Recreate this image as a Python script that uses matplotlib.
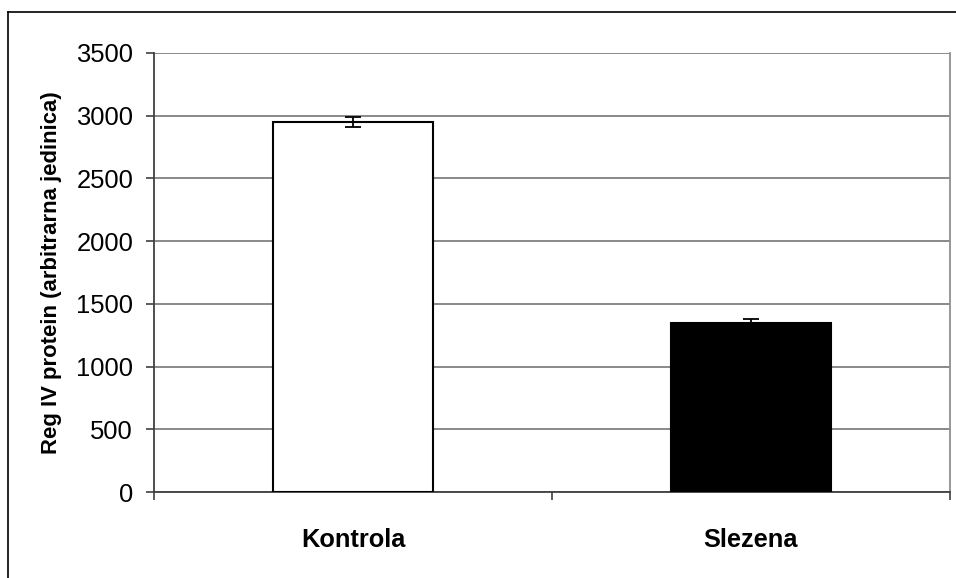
import matplotlib
matplotlib.use("Agg")
import matplotlib.pyplot as plt
from matplotlib.lines import Line2D

categories = ["Kontrola", "Slezena"]
values = [2950, 1345]
errors = [37, 35]
bar_colors = ["white", "black"]
yticks = [0, 500, 1000, 1500, 2000, 2500, 3000, 3500]

plt.rcParams['font.family'] = ['Liberation Sans', 'DejaVu Sans']

fig = plt.figure(figsize=(9.56, 5.78), dpi=100)
ax = fig.add_axes([154/956, (578-492)/578, (950-154)/956, (492-53)/578])

x = list(range(len(categories)))
ax.bar(x, values, width=0.40, color=bar_colors, edgecolor="black", linewidth=1.5, zorder=3)
ax.errorbar(x, values, yerr=errors, fmt="none", ecolor="black", elinewidth=1.3,
            capsize=5.8, capthick=1.3, zorder=4)

ax.set_xlim(-0.5, 1.5)
ax.set_ylim(0, 3500)
ax.set_yticks(yticks)
ax.set_yticklabels([str(v) for v in yticks], fontsize=18.4)
ax.set_xticks(x)
ax.set_xticklabels(categories, fontsize=18.3, fontweight="bold")
ax.tick_params(axis="x", which="major", length=0, pad=26)
ax.set_xticks([-0.5, 0.5, 1.5], minor=True)
ax.tick_params(axis="x", which="minor", length=6, width=1.2, color="#404040", direction="out")
ax.tick_params(axis="y", length=6, width=1.2, color="#404040", direction="out", pad=9)

ax.yaxis.grid(True, color="#808080", linewidth=1.3, zorder=0)
ax.set_axisbelow(True)
ax.spines["top"].set_visible(False)
ax.spines["right"].set_color("#909090")
ax.spines["right"].set_linewidth(1.3)
ax.spines["left"].set_color("#404040")
ax.spines["left"].set_linewidth(1.3)
ax.spines["bottom"].set_color("#404040")
ax.spines["bottom"].set_linewidth(1.3)

ax.set_ylabel("Reg IV protein (arbitrarna jedinica)", fontsize=15.9, fontweight="bold", labelpad=10)

# outer frame (top and left edges visible)
fig.add_artist(Line2D([8/956, 8/956], [0, 1 - 12/578], transform=fig.transFigure, color="black", linewidth=1.2))
fig.add_artist(Line2D([8/956, 1], [1 - 12/578, 1 - 12/578], transform=fig.transFigure, color="black", linewidth=1.2))

fig.savefig("out.png", dpi=100)
